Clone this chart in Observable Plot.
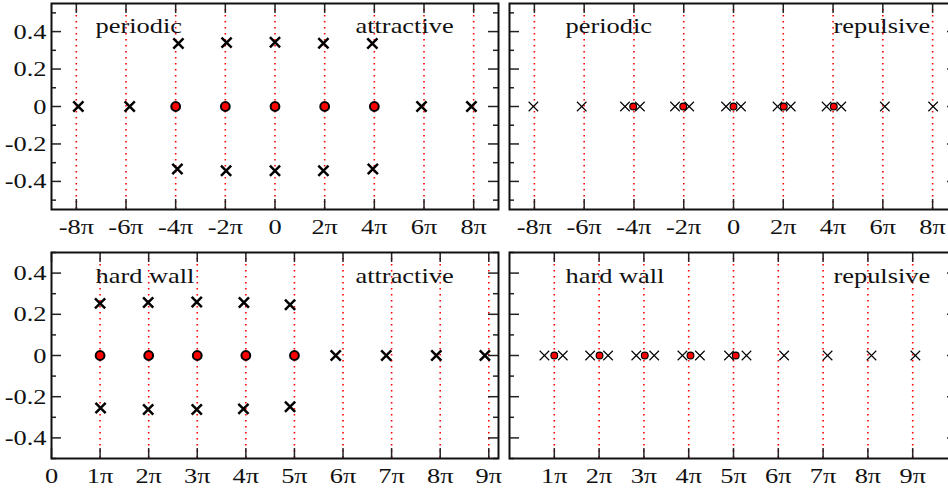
<!DOCTYPE html>
<html><head><meta charset="utf-8">
<script src="https://cdn.jsdelivr.net/npm/d3@7"></script>
<script src="https://cdn.jsdelivr.net/npm/@observablehq/plot@0.6"></script>
<style>
html,body{margin:0;padding:0;background:#fff;}
#wrap{position:relative;width:948px;height:491px;overflow:hidden;background:#fff;}
.panel{position:absolute;overflow:visible;}
.panel svg{max-width:none !important;display:block;}
</style></head><body><div id="wrap"></div>
<script>
// ---------- data (x in units of π) ----------
// periodic, attractive
const paCircleX = [-4, -2, 0, 2, 4];
const paCircleY = [0, 0, 0, 0, 0];
const paCrossX = [-7.92, -5.85, 5.90, 7.91, -3.89, -1.95, 0, 1.95, 3.92, -3.93, -1.97, 0, 1.95, 3.94];
const paCrossY = [0, 0, 0, 0, 0.336, 0.341, 0.343, 0.338, 0.336, -0.334, -0.343, -0.343, -0.343, -0.334];
// periodic, repulsive
const prCircleX = [-4.03, -2.02, 0, 2.02, 4.03];
const prCircleY = [0, 0, 0, 0, 0];
const prCrossX = [-8.04, -6.10, -4.36, -3.76, -2.35, -1.78, -0.30, 0.30, 1.77, 2.30, 3.74, 4.33, 6.08, 8.02];
const prCrossY = [0, 0, 0, 0, 0, 0, 0, 0, 0, 0, 0, 0, 0, 0];
// hard wall, attractive
const haCircleX = [1, 2, 3, 4, 5];
const haCircleY = [0, 0, 0, 0, 0];
const haCrossX = [1.0, 1.99, 2.99, 3.96, 4.91, 1.01, 1.99, 2.99, 3.95, 4.91, 5.85, 6.89, 7.92, 8.92];
const haCrossY = [0.253, 0.257, 0.26, 0.257, 0.246, -0.255, -0.262, -0.262, -0.259, -0.249, 0, 0, 0, 0];
// hard wall, repulsive
const hrCircleX = [1.0, 2.01, 3.02, 4.04, 5.05];
const hrCircleY = [0, 0, 0, 0, 0];
const hrCrossX = [0.78, 1.19, 1.80, 2.20, 2.83, 3.23, 3.86, 4.25, 4.90, 5.29, 6.13, 7.10, 8.08, 9.06];
const hrCrossY = [0, 0, 0, 0, 0, 0, 0, 0, 0, 0, 0, 0, 0, 0];

// ---------- ticks ----------
const periodicTicks = [-8, -6, -4, -2, 0, 2, 4, 6, 8];
const periodicTickLabels = ["-8π", "-6π", "-4π", "-2π", "0", "2π", "4π", "6π", "8π"];
const wallTicksLeft = [0, 1, 2, 3, 4, 5, 6, 7, 8, 9];
const wallTickLabelsLeft = ["0", "1π", "2π", "3π", "4π", "5π", "6π", "7π", "8π", "9π"];
const wallTicksRight = [1, 2, 3, 4, 5, 6, 7, 8, 9];
const wallTickLabelsRight = ["1π", "2π", "3π", "4π", "5π", "6π", "7π", "8π", "9π"];
const periodicGuides = [-8, -6, -4, -2, 0, 2, 4, 6, 8];
const wallGuides = [1, 2, 3, 4, 5, 6, 7, 8, 9];
const yMajorTicks = [-0.4, -0.2, 0, 0.2, 0.4];
const yMajorLabels = ["-0.4", "-0.2", "0", "0.2", "0.4"];
const yMinorTicks = [-0.5, -0.3, -0.1, 0.1, 0.3, 0.5];

const labelsTL = ["periodic", "attractive"];
const labelsTR = ["periodic", "repulsive"];
const labelsBL = ["hard wall", "attractive"];
const labelsBR = ["hard wall", "repulsive"];

function rows(xs, ys) { return xs.map((x, i) => ({x, y: ys[i]})); }

// widen glyphs horizontally around each text's own anchor point
function widenText(svg, s) {
  svg.querySelectorAll("text").forEach(t => {
    const tr = t.getAttribute("transform") || "";
    const x = parseFloat(t.getAttribute("x")) || 0;
    t.setAttribute("transform", `${tr} translate(${x},0) scale(${s},1) translate(${-x},0)`.trim());
  });
}

function panel(o) {
  const W = o.mL + o.areaW + o.mR, H = o.mT + o.areaH + o.mB;
  const xMap = new Map(o.xTicks.map((d, i) => [d, o.xLabels[i]]));
  const yMap = new Map(yMajorTicks.map((d, i) => [d, yMajorLabels[i]]));
  const tk = {stroke: "#222", strokeWidth: 1.5};
  const marks = [
    Plot.ruleX(o.guides, {stroke: "#ff0000", strokeWidth: 1.6, strokeDasharray: "1.6,4.4"}),
    Plot.ruleY(yMajorTicks, {...tk, insetRight: o.areaW - 10}),
    Plot.ruleY(yMinorTicks, {...tk, insetRight: o.areaW - 5}),
    Plot.ruleY(yMajorTicks, {...tk, insetLeft: o.areaW - 10}),
    Plot.ruleY(yMinorTicks, {...tk, insetLeft: o.areaW - 5}),
    Plot.ruleX(o.xTicks, {...tk, insetBottom: o.areaH - 10}),
    Plot.ruleX(o.xTicks, {...tk, insetTop: o.areaH - 10}),
    Plot.axisX(o.xTicks, {tickSize: 0, tickPadding: 9, tickFormat: d => xMap.get(d), fill: "#111", label: null}),
    Plot.frame({stroke: "#111", strokeWidth: 2}),
    Plot.dot(rows(o.crossX, o.crossY), {x: "x", y: "y", symbol: "times", r: o.thick ? 4.7 : 4.4, stroke: "#000", strokeWidth: o.thick ? 2.5 : 1.1}),
    Plot.dot(rows(o.circleX, o.circleY), {x: "x", y: "y", r: o.thick ? 4.4 : 3.4, fill: "#ff0000", stroke: "#000", strokeWidth: o.thick ? 2 : 1.1}),
    Plot.text([o.labels[0]], {text: d => d, frameAnchor: "top-left", textAnchor: "start", lineAnchor: "bottom", dx: o.lab1, dy: o.labDy, fill: "#111"}),
    Plot.text([o.labels[1]], {text: d => d, frameAnchor: "top-left", textAnchor: "start", lineAnchor: "bottom", dx: o.lab2, dy: o.labDy, fill: "#111"})
  ];
  if (o.yAxis) marks.push(Plot.axisY(yMajorTicks, {tickSize: 0, tickPadding: 5, tickFormat: d => yMap.get(d), fill: "#111", label: null}));
  const p = Plot.plot({
    width: W, height: H,
    marginLeft: o.mL, marginRight: o.mR, marginTop: o.mT, marginBottom: o.mB,
    x: {domain: o.xDomain, label: null},
    y: {domain: o.yDomain, label: null, axis: o.yAxis ? undefined : null},
    style: {fontFamily: "'Liberation Serif', 'Times New Roman', serif", fontSize: "22px", background: "transparent", overflow: "visible", maxWidth: "none"},
    marks
  });
  widenText(p, 1.2);
  p.setAttribute("width", W);
  p.setAttribute("height", H);
  p.style.width = W + "px";
  p.style.height = H + "px";
  const div = document.createElement("div");
  div.className = "panel";
  div.style.left = o.left + "px";
  div.style.top = o.top + "px";
  div.style.width = W + "px";
  div.style.height = H + "px";
  div.appendChild(p);
  document.getElementById("wrap").appendChild(div);
}

panel({left: 0, top: 0, mL: 51, mR: 4, mT: 3, mB: 30, areaW: 447, areaH: 206,
  xDomain: [-9, 9], yDomain: [-0.55, 0.55], xTicks: periodicTicks, xLabels: periodicTickLabels,
  guides: periodicGuides, yAxis: true, thick: true,
  crossX: paCrossX, crossY: paCrossY, circleX: paCircleX, circleY: paCircleY,
  labels: labelsTL, lab1: 44, lab2: 304, labDy: 29});
panel({left: 499, top: 0, mL: 10, mR: 4, mT: 3, mB: 30, areaW: 448, areaH: 206,
  xDomain: [-9, 9], yDomain: [-0.55, 0.55], xTicks: periodicTicks, xLabels: periodicTickLabels,
  guides: periodicGuides, yAxis: false, thick: false,
  crossX: prCrossX, crossY: prCrossY, circleX: prCircleX, circleY: prCircleY,
  labels: labelsTR, lab1: 56, lab2: 324, labDy: 29});
panel({left: 0, top: 249, mL: 51, mR: 4, mT: 3, mB: 33, areaW: 447, areaH: 206,
  xDomain: [0, 9.2], yDomain: [-0.5, 0.5], xTicks: wallTicksLeft, xLabels: wallTickLabelsLeft,
  guides: wallGuides, yAxis: true, thick: true,
  crossX: haCrossX, crossY: haCrossY, circleX: haCircleX, circleY: haCircleY,
  labels: labelsBL, lab1: 44, lab2: 304, labDy: 30});
panel({left: 499, top: 249, mL: 10, mR: 4, mT: 3, mB: 33, areaW: 448, areaH: 206,
  xDomain: [0, 10], yDomain: [-0.5, 0.5], xTicks: wallTicksRight, xLabels: wallTickLabelsRight,
  guides: wallGuides, yAxis: false, thick: false,
  crossX: hrCrossX, crossY: hrCrossY, circleX: hrCircleX, circleY: hrCircleY,
  labels: labelsBR, lab1: 56, lab2: 324, labDy: 30});
</script></body></html>
